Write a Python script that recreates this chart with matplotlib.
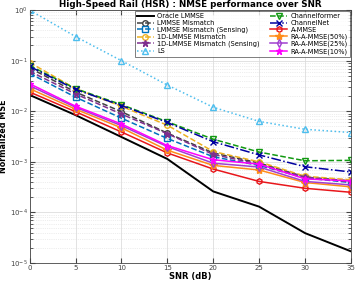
import matplotlib
matplotlib.use("Agg")
import matplotlib.pyplot as plt

# SNR points (dB)
snr = [0, 5, 10, 15, 20, 25, 30, 35]

# NMSE values
oracle_lmmse = [0.021, 0.0084, 0.0031, 0.00114, 0.00026, 0.00013, 3.9e-5, 1.7e-5]
lmmse_mismatch = [0.072, 0.024, 0.0098, 0.0037, 0.0015, 0.00095, 0.0005, 0.00042]
lmmse_sensing = [0.056, 0.019, 0.0073, 0.0029, 0.00126, 0.00085, 0.00048, 0.00039]
lmmse_1d = [0.092, 0.028, 0.0125, 0.0053, 0.0016, 0.001, 0.00052, 0.00044]
lmmse_1d_sensing = [0.062, 0.022, 0.0088, 0.0036, 0.0014, 0.0009, 0.0005, 0.0004]
ls = [1.0, 0.3, 0.1, 0.033, 0.012, 0.0063, 0.0044, 0.0038]
channelformer = [0.08, 0.028, 0.0135, 0.0062, 0.0028, 0.00156, 0.00105, 0.00107]
channelnet = [0.077, 0.027, 0.013, 0.006, 0.0025, 0.00137, 0.0008, 0.00063]
a_mmse = [0.024, 0.0098, 0.0039, 0.0015, 0.00072, 0.00041, 0.0003, 0.00025]
ra_50 = [0.028, 0.011, 0.0047, 0.0017, 0.00085, 0.00069, 0.00039, 0.00032]
ra_25 = [0.032, 0.012, 0.0052, 0.002, 0.00094, 0.00079, 0.00041, 0.00035]
ra_10 = [0.035, 0.0126, 0.0056, 0.0021, 0.0011, 0.0009, 0.00046, 0.00042]

fig = plt.figure(figsize=(3.57, 2.89), dpi=100)
ax = fig.add_axes([0.083, 0.09, 0.9, 0.875])

ms = 4
ax.plot(snr, oracle_lmmse, "-", color="black", lw=1.4, label="Oracle LMMSE")
ax.plot(snr, lmmse_mismatch, "--o", color="#404040", lw=1.1, ms=ms, mfc="none", label="LMMSE Mismatch")
ax.plot(snr, lmmse_sensing, "--s", color="#0072BD", lw=1.1, ms=ms, mfc="none", label="LMMSE Mismatch (Sensing)")
ax.plot(snr, lmmse_1d, "--o", color="#EDB120", lw=1.1, ms=ms, mfc="none", label="1D-LMMSE Mismatch")
ax.plot(snr, lmmse_1d_sensing, "--*", color="#7E2F8E", lw=1.1, ms=ms + 1, label="1D-LMMSE Mismatch (Sensing)")
ax.plot(snr, ls, ":^", color="#4DBEEE", lw=1.1, ms=ms + 1, mfc="none", label="LS")
ax.plot(snr, channelformer, "--v", color="#119911", lw=1.1, ms=ms + 1, mfc="none", label="Channelformer")
ax.plot(snr, channelnet, "-.x", color="#0000A0", lw=1.1, ms=ms, label="ChannelNet")
ax.plot(snr, a_mmse, "-h", color="#E8161B", lw=1.1, ms=ms, mfc="none", label="A-MMSE")
ax.plot(snr, ra_50, "-*", color="#FF8C1A", lw=1.1, ms=ms + 2, label="RA-A-MMSE(50%)")
ax.plot(snr, ra_25, "-d", color="#A040D0", lw=1.1, ms=ms, mfc="none", label="RA-A-MMSE(25%)")
ax.plot(snr, ra_10, "-*", color="#FF00FF", lw=1.1, ms=ms + 1, label="RA-A-MMSE(10%)")

ax.set_yscale("log")
ax.set_xlim(0, 35)
ax.set_ylim(1e-5, 1)
ax.set_xticks(snr)
ax.grid(True, which="major", color="#dddddd", lw=0.6)
ax.grid(True, which="minor", color="#dddddd", lw=0.5, ls=":")
ax.tick_params(which="both", direction="in", top=True, right=True, labelsize=5,
               colors="#444444", pad=1.5)
for sp in ax.spines.values():
    sp.set_color("#444444")
    sp.set_linewidth(0.6)

ax.set_title("High-Speed Rail (HSR) : NMSE performance over SNR", fontsize=6.3, fontweight="bold", pad=2)
ax.set_xlabel("SNR (dB)", fontsize=6, fontweight="bold", labelpad=1)
ax.set_ylabel("Normalized MSE", fontsize=5.8, fontweight="bold")
ax.yaxis.set_label_coords(-0.068, 0.5)

leg = ax.legend(ncol=2, fontsize=4.8, loc="upper right", frameon=True, fancybox=False,
                edgecolor="#444444", handlelength=2.6, columnspacing=1.5, handletextpad=0.5,
                labelspacing=0.12, borderpad=0.3, borderaxespad=0.15)
leg.get_frame().set_linewidth(0.6)

fig.savefig("out.png", dpi=100)
